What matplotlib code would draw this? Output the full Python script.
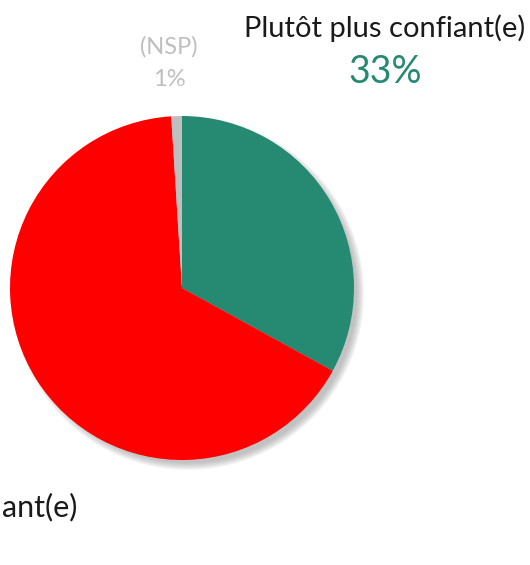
import matplotlib.pyplot as plt
from matplotlib.patches import Circle

# donnees
labels = ['Plutôt plus confiant(e)', 'ant(e)', '(NSP)']
values = [33, 66, 1]
couleurs = ['#268A72', '#FF0000', '#BFBFBF']

plt.rcParams['font.family'] = ['Lato', 'DejaVu Sans']

fig = plt.figure(figsize=(5.3, 5.65), dpi=100)
ax = fig.add_axes([0, 0, 1, 1])

cx, cy, r = 182, 277, 172

# ombre floue
for k in range(8):
    ax.add_patch(Circle((cx + 6, cy - 6), r + 4 - k, color='#7f7f7f', alpha=0.07, lw=0, zorder=0))

ax.pie(values, colors=couleurs, startangle=90, counterclock=False,
       center=(cx, cy), radius=r, frame=False,
       wedgeprops=dict(linewidth=0, zorder=2))

ax.set_xlim(0, 530)
ax.set_ylim(0, 565)
ax.set_aspect('equal')
ax.axis('off')

# etiquettes
ax.text(385, 565 - 28, labels[0], ha='center', va='center', fontsize=21, color='#1a1a1a')
ax.text(385, 565 - 72, f'{values[0]}%', ha='center', va='center', fontsize=27, color=couleurs[0])
ax.text(169, 565 - 47, labels[2], ha='center', va='center', fontsize=17, color='#BFBFBF')
ax.text(169, 565 - 79, f'{values[2]}%', ha='center', va='center', fontsize=17, color='#BFBFBF')
ax.text(2, 565 - 507, labels[1], ha='left', va='center', fontsize=22, color='#1a1a1a')

fig.savefig('out.png', dpi=100)
